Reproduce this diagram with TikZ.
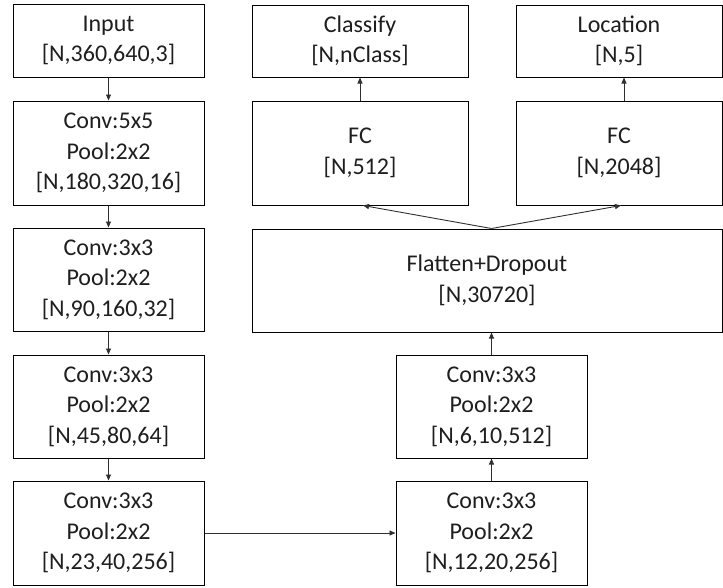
\documentclass[tikz,border=0pt]{standalone}
\usepackage{fontspec}
\setmainfont{Carlito}
\usetikzlibrary{arrows.meta}
\definecolor{txt}{HTML}{1E1E1E}
\definecolor{arr}{HTML}{303030}
\begin{document}
\begin{tikzpicture}[x=1pt,y=-1pt,
  blk/.style={draw=black,line width=1pt,align=center,inner sep=0pt,text=txt,
    font=\fontsize{24}{30.5}\selectfont},
  conn/.style={draw=arr,line width=0.9pt,-{Triangle[length=6pt,width=5pt]}}]
\useasboundingbox (0,0) rectangle (723,587);
% left column
\node[blk,minimum width=191pt,minimum height=73pt] (in) at (108.5,40.5) {Input\\\relax[N,360,640,3]};
\node[blk,minimum width=191pt,minimum height=104pt] (c1) at (108.5,153) {Conv:5x5\\Pool:2x2\\\relax[N,180,320,16]};
\node[blk,minimum width=191pt,minimum height=103pt] (c2) at (108.5,279.5) {Conv:3x3\\Pool:2x2\\\relax[N,90,160,32]};
\node[blk,minimum width=191pt,minimum height=103pt] (c3) at (108.5,406.5) {Conv:3x3\\Pool:2x2\\\relax[N,45,80,64]};
\node[blk,minimum width=191pt,minimum height=104pt] (c4) at (108.5,533) {Conv:3x3\\Pool:2x2\\\relax[N,23,40,256]};
% right column
\node[blk,minimum width=191pt,minimum height=104pt] (r4) at (491.5,533) {Conv:3x3\\Pool:2x2\\\relax[N,12,20,256]};
\node[blk,minimum width=191pt,minimum height=103pt] (r3) at (491.5,406.5) {Conv:3x3\\Pool:2x2\\\relax[N,6,10,512]};
\node[blk,minimum width=470pt,minimum height=103pt] (flat) at (487,280.5) {Flatten+Dropout\\\relax[N,30720]};
\node[blk,minimum width=216pt,minimum height=104pt] (fc1) at (360,153) {FC\\\relax[N,512]};
\node[blk,minimum width=206pt,minimum height=104pt] (fc2) at (619,153) {FC\\\relax[N,2048]};
\node[blk,minimum width=216pt,minimum height=72pt] (cls) at (360,41) {Classify\\\relax[N,nClass]};
\node[blk,minimum width=206pt,minimum height=72pt] (loc) at (619,41) {Location\\\relax[N,5]};
\coordinate (fj) at (r3.north |- flat.north);
\coordinate (fb) at (r3.north |- flat.south);
% connectors
\draw[conn] (in) -- (c1);
\draw[conn] (c1) -- (c2);
\draw[conn] (c2) -- (c3);
\draw[conn] (c3) -- (c4);
\draw[conn] (c4) -- (r4);
\draw[conn] (r4) -- (r3);
\draw[conn] (r3.north) -- (fb);
\draw[conn] (fj) -- ([xshift=3pt]fc1.south);
\draw[conn] (fj) -- ([xshift=2pt]fc2.south);
\draw[conn] (fc1) -- (cls);
\draw[conn] ([xshift=5pt]fc2.north) -- ([xshift=5pt]loc.south);
\end{tikzpicture}
\end{document}
